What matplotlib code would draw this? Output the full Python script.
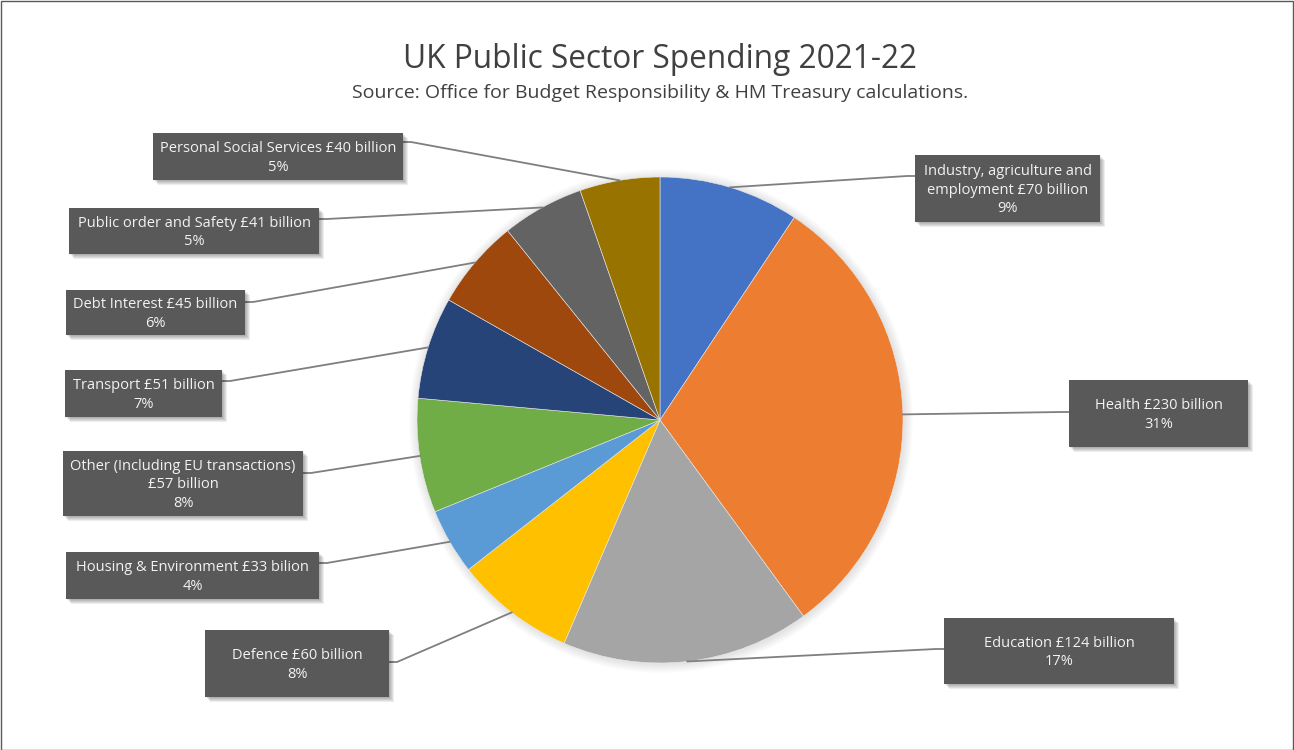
import matplotlib.pyplot as plt
import numpy as np
from matplotlib.patches import Rectangle, Circle

plt.rcParams['font.family'] = ['Open Sans', 'DejaVu Sans']

# data
labels = ['Industry, agriculture and\nemployment £70 billion',
          'Health £230 billion',
          'Education £124 billion',
          'Defence £60 billion',
          'Housing & Environment £33 bilion',
          'Other (Including EU transactions)\n£57 billion',
          'Transport £51 billion',
          'Debt Interest £45 billion',
          'Public order and Safety £41 billion',
          'Personal Social Services £40 billion']
spending = [70, 230, 124, 60, 33, 57, 51, 45, 41, 40]
colors = ['#4472C4', '#ED7D31', '#A5A5A5', '#FFC000', '#5B9BD5',
          '#70AD47', '#264478', '#9E480E', '#636363', '#997300']

# label boxes in pixels: left, top, right, bottom, attach y
boxes = [(915, 155, 1100, 222, 176),
         (1069, 380, 1248, 447, 412),
         (944, 618, 1174, 684, 649),
         (205, 630, 389, 697, 662),
         (66, 552, 319, 599, 563),
         (63, 451, 303, 516, 473),
         (65, 370, 222, 417, 381),
         (66, 290, 245, 335, 302),
         (69, 208, 319, 254, 219),
         (153, 133, 403, 180, 142)]

W, H = 1294, 750
cx, cy, R = 660, 420, 243

fig = plt.figure(figsize=(W / 100, H / 100), dpi=100)
ax = fig.add_axes([0, 0, 1, 1])
ax.set_xlim(0, W)
ax.set_ylim(0, H)
ax.set_aspect('equal')
ax.axis('off')

def Y(y):
    return H - y

# soft shadow around pie
for k in range(1, 10):
    ax.add_patch(Circle((cx + 1, Y(cy) - 1), R + k, color='#000000', alpha=0.012, lw=0, zorder=1))

wedges, _ = ax.pie(spending, colors=colors, startangle=90, counterclock=False,
                   center=(cx, Y(cy)), radius=R,
                   wedgeprops=dict(edgecolor='#e8e8e8', linewidth=0.4, zorder=2))
ax.set_xlim(0, W)
ax.set_ylim(0, H)

total = sum(spending)
for w, lab, v, (l, t, r, b, ay) in zip(wedges, labels, spending, boxes):
    mid = np.deg2rad((w.theta1 + w.theta2) / 2)
    px = cx + R * np.cos(mid)
    py = Y(cy) + R * np.sin(mid)
    if (l + r) / 2 < cx:
        ex, kx = r, r + 8
    else:
        ex, kx = l, l - 8
    ax.plot([ex, kx, px], [Y(ay), Y(ay), py], color='#7f7f7f', lw=1.3, zorder=3)
    # box shadow
    for k in range(1, 6):
        ax.add_patch(Rectangle((l + k, Y(b) - k), r - l, b - t, color='#000000',
                               alpha=0.07, lw=0, zorder=4))
    ax.add_patch(Rectangle((l, Y(b)), r - l, b - t, color='#595959', lw=0, zorder=5))
    ax.text((l + r) / 2, Y((t + b) / 2 + 1.5), f"{lab}\n{round(v / total * 100)}%",
            ha='center', va='center', multialignment='center', linespacing=1.33,
            fontsize=10.5, color='#f2f2f2', zorder=6)

ax.text(W / 2 + 13, Y(60), 'UK Public Sector Spending 2021-22', ha='center', va='center',
        fontsize=22.8, color='#404040')
ax.text(W / 2 + 13, Y(93), 'Source: Office for Budget Responsibility & HM Treasury calculations.',
        ha='center', va='center', fontsize=14, color='#404040')

ax.add_patch(Rectangle((0.5, 0.5), W - 1.5, H - 1.5, fill=False, edgecolor='#595959', lw=1, zorder=10))

fig.savefig('out.png', dpi=100)
